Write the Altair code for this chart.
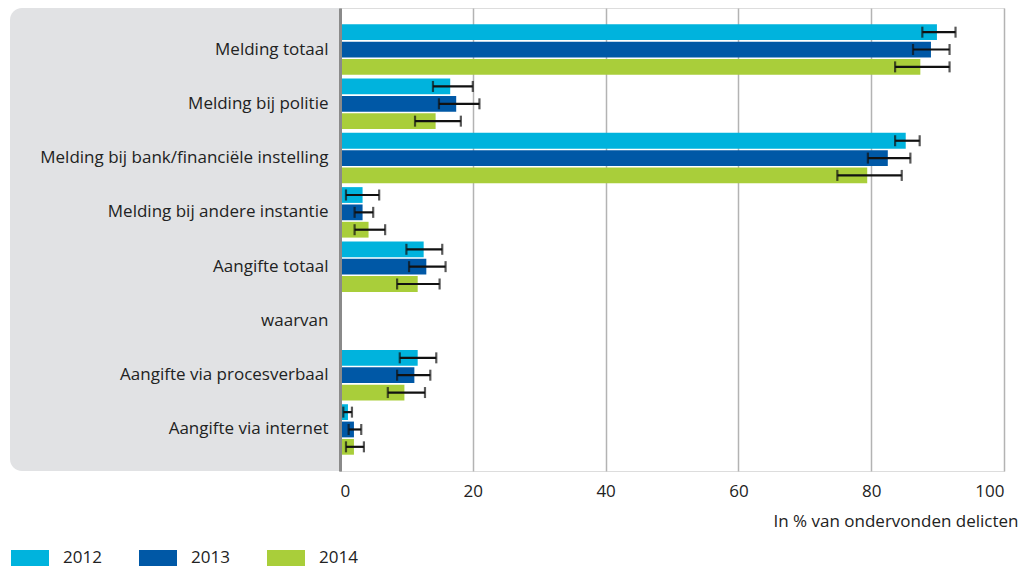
import altair as alt
import pandas as pd

categories = ["Melding totaal", "Melding bij politie", "Melding bij bank/financiële instelling",
              "Melding bij andere instantie", "Aangifte totaal", "waarvan",
              "Aangifte via procesverbaal", "Aangifte via internet"]
bar_categories = ["Melding totaal", "Melding bij politie", "Melding bij bank/financiële instelling",
                  "Melding bij andere instantie", "Aangifte totaal",
                  "Aangifte via procesverbaal", "Aangifte via internet"]
years = ["2012", "2013", "2014"]
colors = ["#00b3dd", "#0058a6", "#a9ce3a"]

v2012 = [89.9, 16.6, 85.2, 3.4, 12.6, 11.7, 1.2]
lo2012 = [87.7, 14.0, 83.6, 0.9, 10.0, 9.0, 0.5]
hi2012 = [92.7, 20.0, 87.3, 5.9, 15.4, 14.5, 1.8]
v2013 = [89.0, 17.5, 82.5, 3.4, 13.0, 11.2, 2.1]
lo2013 = [86.3, 14.9, 79.5, 2.2, 10.4, 8.6, 1.3]
hi2013 = [91.8, 21.0, 85.9, 5.0, 15.9, 13.6, 3.2]
v2014 = [87.4, 14.4, 79.4, 4.3, 11.7, 9.7, 2.1]
lo2014 = [83.6, 11.3, 74.9, 2.2, 8.6, 7.2, 0.9]
hi2014 = [91.8, 18.2, 84.6, 6.8, 15.0, 12.8, 3.6]

x_ticks = [0, 20, 40, 60, 80, 100]
x_title = "In % van ondervonden delicten"

series = {"2012": (v2012, lo2012, hi2012), "2013": (v2013, lo2013, hi2013), "2014": (v2014, lo2014, hi2014)}
rows = []
for yr in years:
    v, lo, hi = series[yr]
    for c, a, b, d in zip(bar_categories, v, lo, hi):
        rows.append({"cat": c, "year": yr, "value": a, "lo": b, "hi": d})
df = pd.DataFrame(rows)

W, H = 664, 463
FONT = "Open Sans"
FS = 17
TXT = "#222222"

yscale = alt.Scale(domain=categories, paddingInner=0.07, paddingOuter=0.3)
yoff = alt.YOffset("year:N", scale=alt.Scale(domain=years, paddingInner=0.09, paddingOuter=0))
xscale = alt.Scale(domain=[0, 100], nice=False)

panel = alt.Chart(pd.DataFrame({"a": [0]})).mark_rect(
    color="#e1e2e4", cornerRadiusTopLeft=12, cornerRadiusBottomLeft=12
).encode(x=alt.value(-330), x2=alt.value(0), y=alt.value(0), y2=alt.value(H))

base = alt.Chart(df)

bars = base.mark_bar().encode(
    x=alt.X("value:Q", scale=xscale,
            axis=alt.Axis(values=x_ticks, title=x_title, grid=True, gridColor="#b3b3b3", gridWidth=1.5,
                          domain=False, ticks=False, labelPadding=12, labelFontSize=FS, labelFont=FONT,
                          labelColor=TXT, titleFont=FONT, titleFontSize=FS, titleFontWeight="normal",
                          titleColor=TXT, titleAnchor="end", titleAlign="right", titleX=678, titleY=50,
                          titleBaseline="middle", zindex=0)),
    y=alt.Y("cat:N", scale=yscale, sort=categories,
            axis=alt.Axis(title=None, ticks=False, domain=True, domainColor="#8a8a8a", domainWidth=3,
                          labelPadding=12, labelFontSize=FS, labelFont=FONT, labelColor=TXT,
                          labelLimit=400, zindex=1)),
    yOffset=yoff,
    color=alt.Color("year:N", scale=alt.Scale(domain=years, range=colors),
                    legend=alt.Legend(title=None, orient="none", legendX=-329, legendY=531,
                                      direction="horizontal", symbolType="M-1,-0.42H1V0.42H-1Z",
                                      symbolSize=1444, symbolStrokeWidth=0, symbolOpacity=1,
                                      labelFontSize=FS, labelFont=FONT, labelColor=TXT,
                                      labelOffset=14, columnPadding=37, padding=0)),
)

err = base.mark_rule(color="#111111", strokeWidth=2.2).encode(
    x=alt.X("lo:Q", scale=xscale), x2="hi:Q",
    y=alt.Y("cat:N", scale=yscale, sort=categories), yOffset=yoff)

cap_lo = base.mark_tick(color="#111111", thickness=2.2, size=11).encode(
    x=alt.X("lo:Q", scale=xscale), y=alt.Y("cat:N", scale=yscale, sort=categories), yOffset=yoff)
cap_hi = base.mark_tick(color="#111111", thickness=2.2, size=11).encode(
    x=alt.X("hi:Q", scale=xscale), y=alt.Y("cat:N", scale=yscale, sort=categories), yOffset=yoff)

chart = alt.layer(panel, bars, err, cap_lo, cap_hi).properties(
    width=W, height=H, padding={"left": 2, "top": 0, "right": 0, "bottom": 0}
).configure_view(stroke=None).configure(background="white")

chart.save("out.html", embed_options={"renderer": "svg", "actions": False})
